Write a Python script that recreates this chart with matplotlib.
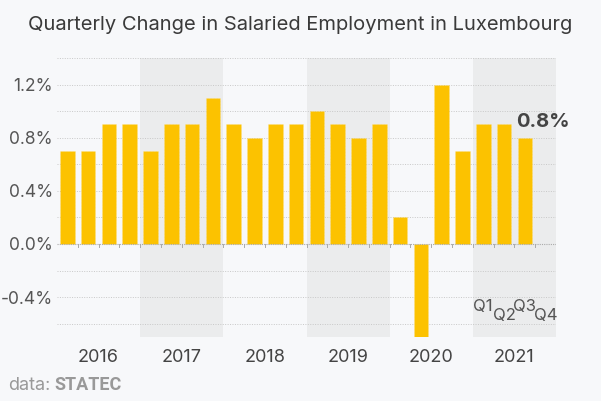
import matplotlib
matplotlib.use("Agg")
import matplotlib.pyplot as plt
import numpy as np

plt.rcParams['font.family'] = ['Inter', 'DejaVu Sans']

years = ["2016", "2017", "2018", "2019", "2020", "2021"]
values = [0.7, 0.7, 0.9, 0.9,
          0.7, 0.9, 0.9, 1.1,
          0.9, 0.8, 0.9, 0.9,
          1.0, 0.9, 0.8, 0.9,
          0.2, -0.7, 1.2, 0.7,
          0.9, 0.9, 0.8]
quarter_labels = ["Q1", "Q2", "Q3", "Q4"]
last_label = "0.8%"
yticks = [-0.4, 0.0, 0.4, 0.8, 1.2]
ytick_labels = ["-0.4%", "0.0%", "0.4%", "0.8%", "1.2%"]

bg = "#f7f8fa"
band = "#ebeced"
bar_color = "#fcc200"
text_col = "#444444"

fig = plt.figure(figsize=(6.01, 4.01), dpi=100, facecolor=bg)
ax = fig.add_axes([57/601, 1-337/401, (556-57)/601, (337-58)/401])
ax.set_facecolor(bg)

n_slots = len(years) * 4
ax.set_xlim(0, n_slots)
ax.set_ylim(-0.7, 1.4)

# shaded bands for alternating years
for i in range(len(years)):
    if i % 2 == 1:
        ax.axvspan(i*4, i*4+4, color=band, zorder=0, lw=0)

# gridlines
for g in np.arange(-0.6, 1.41, 0.2):
    if abs(g) < 1e-9:
        continue
    ax.axhline(g, color="#c8c8c8", lw=0.7, ls=(0, (1, 1.5)), zorder=1)
ax.axhline(0, color="#aaaaaa", lw=0.8, ls=(0, (1, 1)), zorder=3)

x = np.arange(len(values)) + 0.5
ax.bar(x, values, width=0.7, color=bar_color, zorder=2, edgecolor="#fde38a", lw=0.4, ls=":")

# quarter tick marks on zero line
for k in range(1, n_slots):
    ax.plot([k, k], [0, -0.02], color="#aaaaaa", lw=0.7, zorder=3)

ax.set_yticks(yticks)
ax.set_yticklabels(ytick_labels)
ax.tick_params(axis='y', length=0, labelsize=12.5, labelcolor="#555555", pad=3)
ax.set_xticks([i*4+2 for i in range(len(years))])
ax.set_xticklabels(years)
ax.tick_params(axis='x', length=0, labelsize=13, labelcolor="#444444", pad=9)
for s in ax.spines.values():
    s.set_visible(False)

# annotation for last value
ax.text(22.1, 0.92, last_label, fontsize=14.5, fontweight="bold",
        color=text_col, ha="left", va="center")

# quarter labels
base = (len(years)-1)*4
for q, lab in enumerate(quarter_labels):
    yv = -0.47 if q % 2 == 0 else -0.54
    ax.text(base + q + 0.5, yv, lab, fontsize=12, color="#555555", ha="center", va="center")

fig.text(28/601, 1-25/401, "Quarterly Change in Salaried Employment in Luxembourg",
         fontsize=14.5, color="#3a3a3a", ha="left", va="center")
fig.text(8/601, 1-385/401, "data:", fontsize=13, color="#999999", ha="left", va="center")
fig.text(54/601, 1-385/401, "STATEC", fontsize=13, color="#999999", ha="left", va="center",
         fontweight="bold", family=["Roboto", "DejaVu Sans"])

fig.savefig("out.png", dpi=100, facecolor=bg)
